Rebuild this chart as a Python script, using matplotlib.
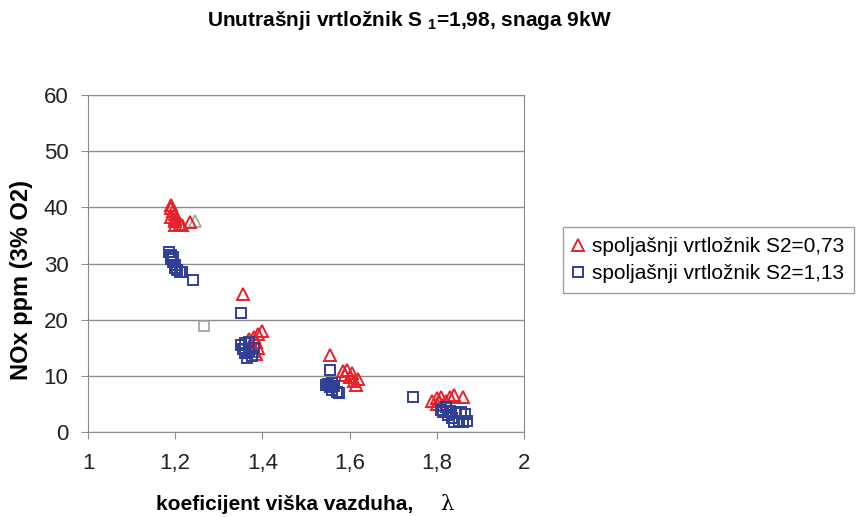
import matplotlib.pyplot as plt
from matplotlib.ticker import FixedLocator, FixedFormatter

plt.rcParams['font.family'] = ['Liberation Sans', 'DejaVu Sans']
plt.rcParams['mathtext.fontset'] = 'custom'
plt.rcParams['mathtext.rm'] = 'Liberation Sans:bold'
plt.rcParams['mathtext.it'] = 'Liberation Sans:bold'

# spoljasnji vrtloznik S2=0,73
red_x = [1.19, 1.19, 1.195, 1.20, 1.19, 1.20, 1.20, 1.21, 1.20, 1.215, 1.235,
         1.355, 1.37, 1.375, 1.38, 1.38, 1.385, 1.39, 1.40, 1.385, 1.39,
         1.555, 1.585, 1.59, 1.595, 1.60, 1.605, 1.61, 1.615, 1.62,
         1.79, 1.80, 1.80, 1.805, 1.81, 1.815, 1.82, 1.83, 1.84, 1.86]
red_y = [40.5, 39.8, 39.3, 38.8, 38.3, 38.0, 37.5, 37.0, 36.8, 36.8, 37.3,
         24.5, 16.5, 15.5, 17.0, 14.5, 16.0, 17.5, 18.0, 13.8, 15.0,
         13.7, 10.8, 10.2, 11.0, 9.8, 10.5, 9.0, 8.3, 9.5,
         5.5, 6.0, 5.0, 5.5, 6.2, 4.8, 5.5, 6.3, 6.5, 6.3]

# spoljasnji vrtloznik S2=1,13
blue_x = [1.185, 1.19, 1.19, 1.195, 1.195, 1.20, 1.20, 1.205, 1.21, 1.215, 1.24,
          1.35, 1.35, 1.355, 1.36, 1.365, 1.36, 1.37, 1.375, 1.38, 1.37,
          1.555, 1.55, 1.555, 1.56, 1.565, 1.57, 1.575, 1.56, 1.545,
          1.745, 1.81, 1.815, 1.82, 1.825, 1.83, 1.835, 1.84, 1.845, 1.85,
          1.855, 1.86, 1.865, 1.87]
blue_y = [32.0, 31.5, 30.8, 31.2, 30.2, 29.8, 29.2, 28.8, 28.5, 28.5, 27.0,
          21.2, 15.5, 14.8, 14.0, 13.2, 15.8, 14.5, 13.5, 15.0, 16.0,
          11.0, 8.5, 8.0, 7.5, 8.2, 7.2, 7.0, 8.8, 8.3,
          6.3, 4.0, 3.5, 4.5, 3.0, 3.8, 2.5, 1.8, 3.3, 2.0,
          3.5, 1.8, 3.2, 2.0]

# faded (gray) points
gray_tri_x, gray_tri_y = [1.245], [37.6]
gray_sq_x, gray_sq_y = [1.265], [18.8]

x_ticks = [1, 1.2, 1.4, 1.6, 1.8, 2]
x_labels = ['1', '1,2', '1,4', '1,6', '1,8', '2']
y_ticks = [0, 10, 20, 30, 40, 50, 60]

red = '#e8202a'
blue = '#2e3f96'
grid_c = '#8c8c8c'

fig = plt.figure(figsize=(8.59, 5.17), dpi=100)
ax = fig.add_axes([88/859, 1-432/517, (524-88)/859, (432-95)/517])

ax.plot(gray_tri_x, gray_tri_y, ls='none', marker='^', ms=8, mfc='none',
        mec='#a0a0a0', mew=1.2)
ax.plot(gray_sq_x, gray_sq_y, ls='none', marker='s', ms=7, mfc='none',
        mec='#a0a0a0', mew=1.2)
ax.plot(red_x, red_y, ls='none', marker='^', ms=8, mfc='none', mec=red,
        mew=1.4, label='spoljašnji vrtložnik S2=0,73')
ax.plot(blue_x, blue_y, ls='none', marker='s', ms=7, mfc='none', mec=blue,
        mew=1.4, label='spoljašnji vrtložnik S2=1,13')

ax.set_xlim(1, 2)
ax.set_ylim(0, 60)
ax.xaxis.set_major_locator(FixedLocator(x_ticks))
ax.xaxis.set_major_formatter(FixedFormatter(x_labels))
ax.set_yticks(y_ticks)
ax.yaxis.grid(True, color=grid_c, lw=1)
ax.set_axisbelow(True)
for s in ax.spines.values():
    s.set_color(grid_c)
ax.tick_params(colors='#222222', labelsize=16, length=5, color=grid_c)
ax.tick_params(axis='x', pad=10)
ax.tick_params(axis='y', pad=9)

fig.text(22/859, 1 - 280/517, 'NOx ppm (3% O2)', fontsize=17,
         fontweight='bold', rotation=90, ha='center', va='center')
fig.text(285/859, 1 - 505/517, 'koeficijent viška vazduha,', fontsize=15,
         fontweight='bold', ha='center', va='center')
fig.text(447/859, 1 - 504/517, 'λ', fontsize=15, family='DejaVu Serif',
         va='center', ha='center')

fig.text(409/859, 1 - 20/517, 'Unutrašnji vrtložnik S $_1$=1,98, snaga 9kW',
         fontsize=15, fontweight='bold', ha='center', va='center')

leg = fig.legend(loc='center left', bbox_to_anchor=(563/859, 1 - 260/517),
                 fontsize=15, frameon=True, fancybox=False, edgecolor='#888888',
                 handlelength=0.5, handletextpad=0.45, borderpad=0.45,
                 labelspacing=0.4, borderaxespad=0)
leg.get_frame().set_linewidth(1)

fig.savefig('out.png', dpi=100)
